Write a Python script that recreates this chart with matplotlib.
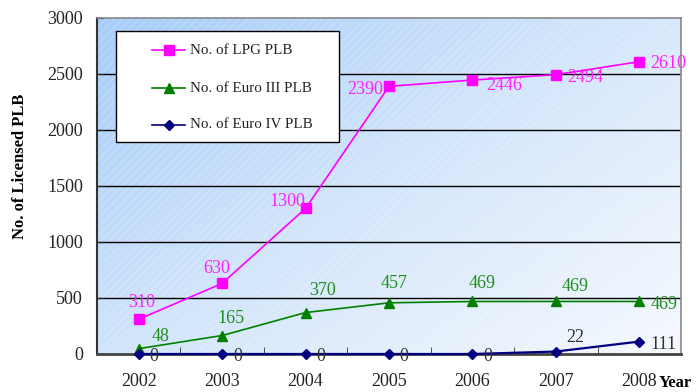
import numpy as np
import matplotlib
matplotlib.use("Agg")
import matplotlib.pyplot as plt
from matplotlib.colors import LinearSegmentedColormap
from matplotlib.patches import Rectangle
from matplotlib.lines import Line2D

years = ["2002", "2003", "2004", "2005", "2006", "2007", "2008"]
lpg_plb = [310, 630, 1300, 2390, 2446, 2494, 2610]
euro3_plb = [48, 165, 370, 457, 469, 469, 469]
euro4_plb = [0, 0, 0, 0, 0, 22, 111]
y_ticks = [0, 500, 1000, 1500, 2000, 2500, 3000]
series_names = ["No. of LPG PLB", "No. of Euro III PLB", "No. of Euro IV PLB"]

SERIF = ["Liberation Serif", "DejaVu Serif"]
plt.rcParams["font.family"] = SERIF

W, H = 697, 392
fig = plt.figure(figsize=(W / 100, H / 100), dpi=100)
L, R, B, T = 97 / W, 681 / W, (H - 354) / H, (H - 18) / H
ax = fig.add_axes([L, B, R - L, T - B])

x = np.arange(len(years))
ax.set_xlim(-0.5, len(years) - 0.5)
ax.set_ylim(0, 3000)

# diagonal blue-to-white gradient fill
gx, gy = np.meshgrid(np.linspace(0, 1, 300), np.linspace(1, 0, 200))
g = np.clip(0.55 * gx + 0.45 * (1 - gy), 0, 1)
cmap = LinearSegmentedColormap.from_list("bg", ["#a6cdf9", "#d4e6fb", "#f6f9fe"])
ax.imshow(g, cmap=cmap, extent=[-0.5, len(years) - 0.5, 0, 3000],
          aspect="auto", zorder=0, interpolation="bilinear")
ax.add_patch(Rectangle((-0.5, 0), len(years), 3000, facecolor="none",
                       edgecolor=(1, 1, 1, 0.18), hatch="////", lw=0, zorder=0.5))

for v in y_ticks[1:-1]:
    ax.axhline(v, color="black", lw=1.0, zorder=1)

colors = ["#ff00ff", "#008000", "#000080"]
markers = [("s", 6.5), ("^", 7), ("D", 5)]
ax.plot(x, lpg_plb, color=colors[0], lw=1.2, marker="s", ms=6.5, zorder=4)
ax.plot(x, euro3_plb, color=colors[1], lw=1.2, marker="^", ms=7, zorder=4)
ax.plot(x, euro4_plb, color=colors[2], lw=1.6, marker="D", ms=5, zorder=5, clip_on=False)

fs = 13
# value labels: (dx, dy) offsets in points, alignment
lpg_pos = [(2, 12, "center"), (-4, 11, "center"), (0, 5, "right"), (-4, -2, "right"),
           (10, -4, "left"), (8, -2, "left"), (8, -1, "left")]
e3_pos = [(16, 9, "center"), (6, 12, "center"), (12, 16, "center"), (4, 14, "center"),
          (7, 13, "center"), (14, 11, "center"), (8, -2, "left")]
e4_pos = [(11, -2, "center"), (11, -2, "center"), (11, -2, "center"), (11, -2, "center"),
          (11, -2, "center"), (14, 10, "center"), (8, -2, "left")]

def label_series(vals, pos, color):
    for xi, v, (dx, dy, ha) in zip(x, vals, pos):
        ax.annotate(str(v), (xi, v), xytext=(dx, dy), textcoords="offset points",
                    ha=ha, va="center", fontsize=fs, color=color, zorder=6,
                    annotation_clip=False)

label_series(lpg_plb, lpg_pos, "#ff22ff")
label_series(euro3_plb, e3_pos, "#1e8f1e")
label_series(euro4_plb, e4_pos, "#333333")

ax.set_xticks(x)
ax.set_xticklabels(years)
ax.set_xticks(np.arange(0.5, len(years) - 1, 1), minor=True)
ax.set_yticks(y_ticks)
ax.tick_params(axis="x", which="major", length=0, pad=14, labelsize=fs, colors="#222222")
ax.tick_params(axis="x", which="minor", direction="in", length=5, color="#333333")
ax.tick_params(axis="y", direction="in", length=5, pad=10, labelsize=fs, colors="#222222")

for side in ["top", "right"]:
    ax.spines[side].set_color("#888888")
    ax.spines[side].set_linewidth(1.2)
ax.spines["left"].set_color("#333333")
ax.spines["left"].set_linewidth(1.5)
ax.spines["bottom"].set_color("#444444")
ax.spines["bottom"].set_linewidth(2)

fig.text(20 / W, 1 - 166 / H, "No. of Licensed PLB", rotation=90, ha="center",
         va="center", fontsize=12, fontweight="bold")
fig.text(659 / W, 1 - 383 / H, "Year", ha="left", va="center",
         fontsize=12, fontweight="bold")

# legend box drawn in figure pixel coordinates
def fx(px):
    return px / W

def fy(py):
    return 1 - py / H

fig.add_artist(Rectangle((fx(116), fy(142)), fx(339) - fx(116), fy(31) - fy(142),
                         transform=fig.transFigure, facecolor="white",
                         edgecolor="black", lw=1.0, zorder=7))
for row_y, name, c, (m, ms) in zip([50, 88, 125], series_names, colors, markers):
    fig.add_artist(Line2D([fx(152), fx(185)], [fy(row_y)] * 2, color=c, lw=1.2,
                          transform=fig.transFigure, zorder=8))
    fig.add_artist(Line2D([fx(168.5)], [fy(row_y)], color=c, marker=m, ms=ms,
                          transform=fig.transFigure, zorder=8))
    fig.text(fx(190), fy(row_y), name, ha="left", va="center", fontsize=10.8,
             color="#222222", zorder=9)

fig.savefig("out.png", dpi=100)
